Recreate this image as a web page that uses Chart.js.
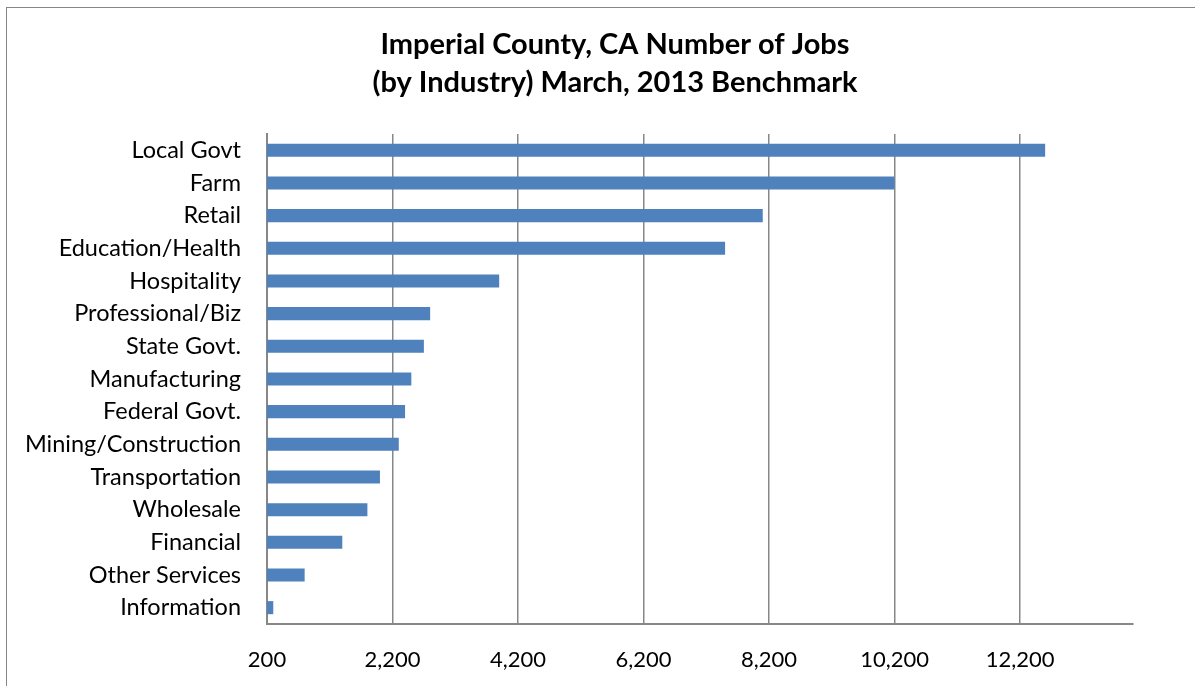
<!DOCTYPE html>
<html>
<head>
<meta charset="utf-8">
<script src="https://cdn.jsdelivr.net/npm/chart.js@4"></script>
<style>
  html, body { margin: 0; padding: 0; background: #fff; }
  #wrap { width: 1195px; height: 686px; position: relative; }
</style>
</head>
<body>
<div id="wrap"><canvas id="chart" width="1195" height="686"></canvas></div>
<script>
// Данные графика
const categories = ['Local Govt', 'Farm', 'Retail', 'Education/Health', 'Hospitality',
    'Professional/Biz', 'State Govt.', 'Manufacturing', 'Federal Govt.', 'Mining/Construction',
    'Transportation', 'Wholesale', 'Financial', 'Other Services', 'Information'];
const jobs = [12600, 10200, 8100, 7500, 3900, 2800, 2700, 2500, 2400, 2300, 2000, 1800, 1400, 800, 300];
const xTicks = [200, 2200, 4200, 6200, 8200, 10200, 12200];
const titleLines = ['Imperial County, CA Number of Jobs', '(by Industry) March, 2013 Benchmark'];

const axisGray = '#878787';

// Рамка вокруг области диаграммы
const frame = {
    id: 'frame',
    afterLayout(chart) {
        // сдвигаем центр заголовка вправо, как в оригинале
        if (chart.titleBlock) chart.titleBlock.left += 97;
    },
    beforeDraw(chart) {
        const ctx = chart.ctx;
        ctx.save();
        ctx.fillStyle = '#fff';
        ctx.fillRect(0, 0, chart.width, chart.height);
        ctx.strokeStyle = axisGray;
        ctx.lineWidth = 1;
        ctx.strokeRect(6.5, 7.5, 2000, 2000);
        ctx.restore();
    }
};

new Chart(document.getElementById('chart'), {
    type: 'bar',
    data: {
        labels: categories,
        datasets: [{
            data: jobs,
            backgroundColor: '#4F81BD',
            borderWidth: 0,
            categoryPercentage: 1,
            barPercentage: 0.4
        }]
    },
    options: {
        indexAxis: 'y',
        responsive: false,
        animation: false,
        layout: { padding: { left: 0, right: 62, top: 0, bottom: 0 } },
        plugins: {
            legend: { display: false },
            tooltip: { enabled: false },
            title: {
                display: true,
                text: titleLines,
                color: '#000',
                font: { family: 'Lato', size: 29, weight: 'bold', lineHeight: 1.31 },
                padding: { top: 26, bottom: 32 }
            }
        },
        scales: {
            x: {
                min: 200,
                max: 14000,
                afterBuildTicks: (scale) => { scale.ticks = xTicks.map(v => ({ value: v })); },
                afterFit: (scale) => { scale.height = 62; },
                grid: { color: axisGray, lineWidth: 1.5, drawTicks: false, tickLength: 0 },
                border: { color: axisGray, width: 2 },
                ticks: {
                    color: '#000',
                    padding: 23,
                    maxRotation: 0,
                    font: { family: 'Lato', size: 22 },
                    callback: (v) => Number(v).toLocaleString('en-US')
                }
            },
            y: {
                afterFit: (scale) => { scale.width = 267; },
                grid: { display: false, drawTicks: false, tickLength: 0 },
                border: { color: axisGray, width: 2 },
                ticks: {
                    color: '#000',
                    padding: 26,
                    autoSkip: false,
                    font: { family: 'Lato', size: 23.5 }
                }
            }
        }
    },
    plugins: [frame]
});
</script>
</body>
</html>
